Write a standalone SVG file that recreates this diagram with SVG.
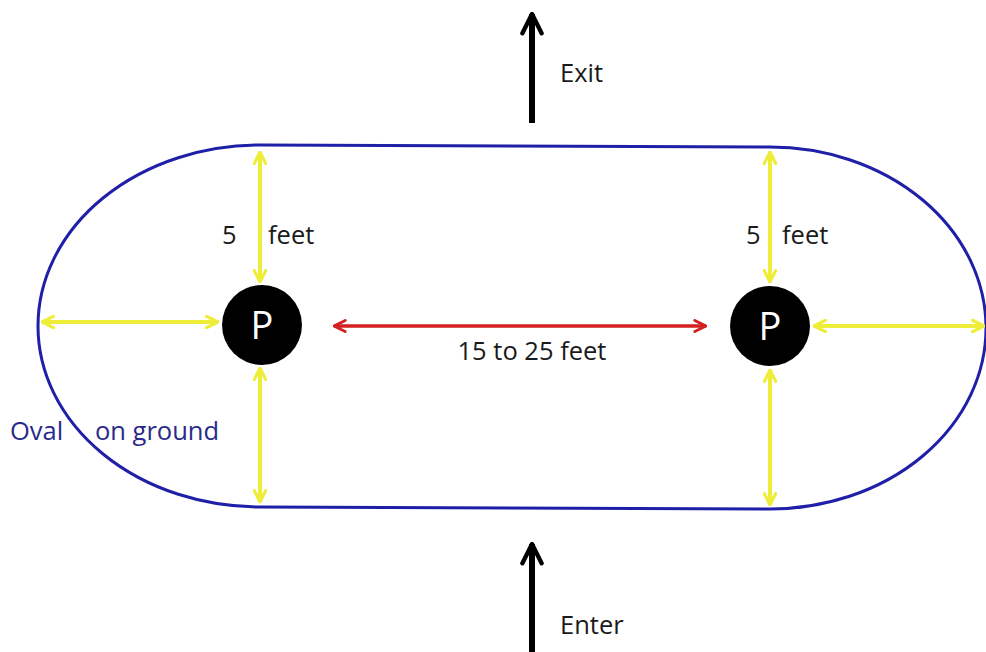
<svg xmlns="http://www.w3.org/2000/svg" width="986" height="652" viewBox="0 0 986 652">
<style>
text{font-family:"Open Sans","Liberation Sans",sans-serif;font-size:25.5px;fill:#1a1a1a}
.y{stroke:#eeee3a;stroke-width:4;fill:none;marker-start:url(#ya);marker-end:url(#ya)}
.r{stroke:#d42020;stroke-width:3.5;fill:none;marker-start:url(#ra);marker-end:url(#ra)}
.k{stroke:#000;stroke-width:6;fill:none;marker-end:url(#ka)}
.p{fill:#000}
.pt{fill:#fff;font-size:38px;text-anchor:middle}
</style>
<defs>
<marker id="ya" viewBox="0 0 10 10" refX="9" refY="5" markerWidth="3.6" markerHeight="3.6" orient="auto-start-reverse" markerUnits="strokeWidth"><path d="M1,1 L9,5 L1,9" fill="none" stroke="#eeee3a" stroke-width="2.2" stroke-linecap="round" stroke-linejoin="round"/></marker>
<marker id="ra" viewBox="0 0 10 10" refX="9" refY="5" markerWidth="4" markerHeight="4" orient="auto-start-reverse" markerUnits="strokeWidth"><path d="M1,1 L9,5 L1,9" fill="none" stroke="#d42020" stroke-width="2" stroke-linecap="round" stroke-linejoin="round"/></marker>
<marker id="ka" viewBox="0 0 10 10" refX="9" refY="5" markerWidth="4" markerHeight="5" orient="auto" markerUnits="strokeWidth"><path d="M1,1 L9,5 L1,9" fill="none" stroke="#000" stroke-width="1.8" stroke-linecap="round" stroke-linejoin="round"/></marker>
</defs>
<g id="oval">
<path d="M260,145 L770,147 A216,181 0 0 1 770,509 L260,507 A222,181 0 0 1 260,145 Z" fill="none" stroke="#1f1fa8" stroke-width="3"/>
</g>
<g id="connectors">
<line class="y" x1="260" y1="152" x2="260" y2="282"/>
<line class="y" x1="260" y1="368" x2="260" y2="502"/>
<line class="y" x1="42" y1="322" x2="218" y2="322"/>
<line class="y" x1="770" y1="152" x2="770" y2="282"/>
<line class="y" x1="770" y1="370" x2="770" y2="505"/>
<line class="y" x1="814" y1="326" x2="984" y2="326"/>
<line class="r" x1="334" y1="326" x2="706" y2="326"/>
<line class="k" x1="532" y1="123" x2="532" y2="14"/>
<line class="k" x1="532" y1="652" x2="532" y2="544"/>
</g>
<g id="P1"><circle class="p" cx="262" cy="325" r="40"/><text class="pt" x="262" y="339">P</text></g>
<g id="P2"><circle class="p" cx="770" cy="326" r="40"/><text class="pt" x="770" y="340">P</text></g>
<g id="labels">
<text x="222" y="244">5</text><text x="268" y="244">feet</text>
<text x="746" y="244">5</text><text x="782" y="244">feet</text>
<text x="532" y="360" text-anchor="middle">15 to 25 feet</text>
<text x="560" y="82">Exit</text>
<text x="560" y="634">Enter</text>
<text x="10" y="440" style="fill:#2a2a8a">Oval</text>
<text x="95" y="440" style="fill:#2a2a8a">on ground</text>
</g>
</svg>
